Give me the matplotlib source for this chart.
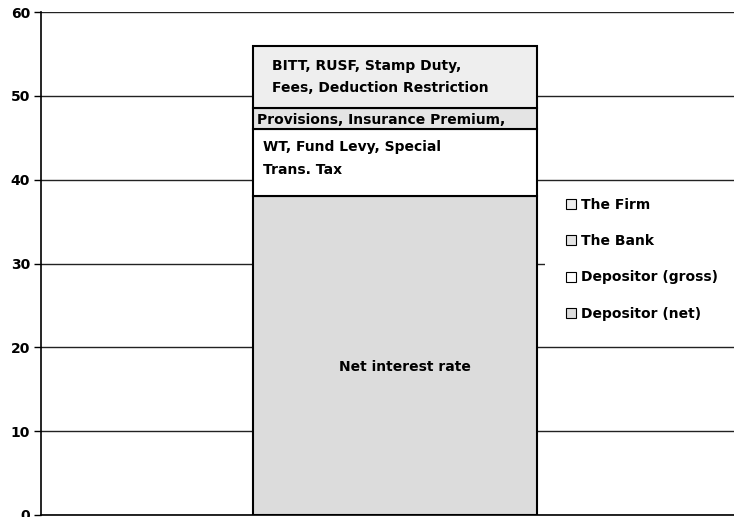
import matplotlib
matplotlib.use("Agg")
import matplotlib.pyplot as plt
from matplotlib.patches import Patch, Rectangle

plt.rcParams['font.family'] = ['DejaVu Sans']
plt.rcParams['font.weight'] = 'bold'

# Stacked components (bottom to top)
series = ["Depositor (net)", "Depositor (gross)", "The Bank", "The Firm"]
values = [38, 8, 2.5, 7.5]
colors = ["#dcdcdc", "#ffffff", "#e4e4e4", "#eeeeee"]
labels = ["Net interest rate",
          "WT, Fund Levy, Special\nTrans. Tax",
          "Provisions, Insurance Premium,",
          "BITT, RUSF, Stamp Duty,\nFees, Deduction Restriction"]
yticks = [0, 10, 20, 30, 40, 50, 60]

fig = plt.figure(figsize=(7.34, 5.17), dpi=100)
ax = fig.add_axes([41 / 734, 2 / 517, 693 / 734, 503 / 517])

bottom = 0
bars = []
for name, val, col in zip(series, values, colors):
    ax.bar(0, val, width=0.41, bottom=bottom, color=col,
           edgecolor='black', linewidth=1.5, zorder=3)
    bars.append((bottom, val))
    bottom += val

# segment labels
b0, v0 = bars[0]
ax.text(0.014, b0 + v0 * 0.466, labels[0], ha='center', va='center',
        fontsize=10, fontweight='bold', zorder=4)
b1, v1 = bars[1]
ax.text(-0.191, b1 + v1 - 1.3, labels[1], ha='left', va='top',
        fontsize=10, fontweight='bold', linespacing=1.8, zorder=4)
b2, v2 = bars[2]
ax.text(-0.2, b2 + v2 / 2 - 0.1, labels[2], ha='left', va='center',
        fontsize=10, fontweight='bold', zorder=4)
b3, v3 = bars[3]
ax.text(-0.177, b3 + v3 / 2, labels[3], ha='left', va='center',
        fontsize=10, fontweight='bold', linespacing=1.75, zorder=4)

ax.set_xlim(-0.511, 0.489)
ax.set_ylim(0, 60)
ax.set_yticks(yticks)
ax.set_yticklabels([str(t) for t in yticks], fontsize=10, fontweight='bold')
ax.set_xticks([])
ax.yaxis.grid(True, color='#222222', linewidth=1)
ax.set_axisbelow(True)
ax.tick_params(axis='y', direction='out', length=5, width=1, pad=3)
for s in ['top', 'right']:
    ax.spines[s].set_visible(False)
ax.spines['left'].set_linewidth(1.2)
ax.spines['bottom'].set_linewidth(1.2)

# white legend area hiding the gridlines
x0 = (545 - 41) / 693
y_top = (515 - 186) / 503
y_bot = (515 - 334) / 503
ax.add_patch(Rectangle((x0, y_bot), 1 - x0, y_top - y_bot, transform=ax.transAxes,
                       facecolor='white', edgecolor='none', zorder=1))

handles = [Patch(facecolor=colors[i], edgecolor='black', linewidth=0.8,
                 label=series[i]) for i in [3, 2, 1, 0]]
leg = ax.legend(handles=handles, loc='upper left',
                bbox_to_anchor=((566 - 41) / 693, (515 - 198) / 503),
                frameon=False, fontsize=10, handlelength=0.75,
                handleheight=0.75, handletextpad=0.3, labelspacing=1.6,
                borderpad=0, borderaxespad=0)
leg.set_zorder(5)
for t in leg.get_texts():
    t.set_fontweight('bold')

fig.savefig("out.png", dpi=100)
